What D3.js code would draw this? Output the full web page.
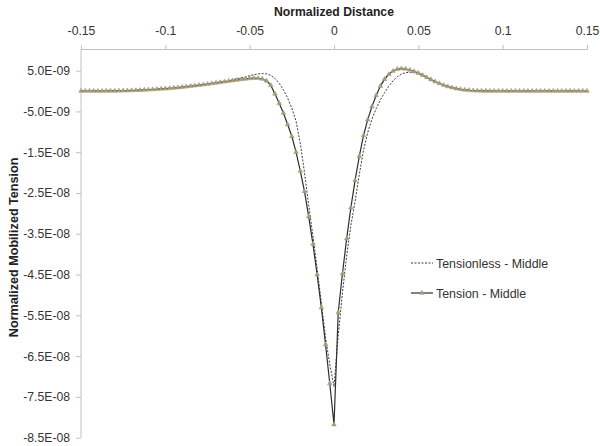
<!DOCTYPE html>
<html>
<head>
<meta charset="utf-8">
<script src="https://cdn.jsdelivr.net/npm/d3@7"></script>
<style>
  html, body { margin: 0; padding: 0; background: #fff; }
  svg { display: block; font-family: "Liberation Sans", Arial, sans-serif; }
</style>
</head>
<body>
<svg id="chart" width="600" height="446"></svg>
<script>
// Normalized distance (x)
const distance = [
  -0.15,-0.1475,-0.145,-0.1425,-0.14,-0.1375,-0.135,-0.1325,-0.13,-0.1275,
  -0.125,-0.1225,-0.12,-0.1175,-0.115,-0.1125,-0.11,-0.1075,-0.105,-0.1025,
  -0.1,-0.0975,-0.095,-0.0925,-0.09,-0.0875,-0.085,-0.0825,-0.08,-0.0775,
  -0.075,-0.0725,-0.07,-0.0675,-0.065,-0.0625,-0.06,-0.0575,-0.055,-0.0525,
  -0.05,-0.0475,-0.045,-0.0425,-0.04,-0.0375,-0.035,-0.0325,-0.03,-0.0275,
  -0.025,-0.0225,-0.02,-0.0175,-0.015,-0.0125,-0.01,-0.0075,-0.005,-0.0025,
  0,0.0025,0.005,0.0075,0.01,0.0125,0.015,0.0175,0.02,0.0225,
  0.025,0.0275,0.03,0.0325,0.035,0.0375,0.04,0.0425,0.045,0.0475,
  0.05,0.0525,0.055,0.0575,0.06,0.0625,0.065,0.0675,0.07,0.0725,
  0.075,0.0775,0.08,0.0825,0.085,0.0875,0.09,0.0925,0.095,0.0975,
  0.1,0.1025,0.105,0.1075,0.11,0.1125,0.115,0.1175,0.12,0.1225,
  0.125,0.1275,0.13,0.1325,0.135,0.1375,0.14,0.1425,0.145,0.1475,
  0.15
];

// Values in units of 1E-09
const tensionMiddle = [
  0,0,0,0,0,0,0.01,0.02,0.03,0.05,
  0.07,0.1,0.13,0.17,0.21,0.26,0.31,0.37,0.43,0.5,
  0.57,0.65,0.74,0.84,0.95,1.06,1.18,1.3,1.43,1.56,
  1.7,1.84,1.98,2.12,2.27,2.42,2.56,2.7,2.84,2.97,
  3.08,3.15,3.12,2.95,2.5,1.4,-0.7,-3.0,-5.4,-8.2,
  -11.1,-15,-19.6,-24.6,-30.8,-37.5,-45,-53.1,-62.2,-71.7,
  -81.8,-54.3,-44.8,-36.2,-28.6,-21.9,-16,-10.9,-7,-3.8,
  -1.1,1.2,2.9,4.1,4.9,5.35,5.5,5.4,5.15,4.8,
  4.4,3.9,3.35,2.8,2.3,1.85,1.45,1.1,0.82,0.6,
  0.42,0.28,0.18,0.11,0.06,0.03,0.01,0,0,0,
  0,0,0,0,0,0,0,0,0,0,
  0,0,0,0,0,0,0,0,0,0,
  0
];

const tensionlessMiddle = [
  0,0,0,0,0,0,0.01,0.02,0.03,0.05,
  0.07,0.1,0.13,0.17,0.21,0.26,0.31,0.37,0.43,0.5,
  0.57,0.65,0.74,0.84,0.95,1.06,1.18,1.3,1.43,1.57,
  1.72,1.88,2.04,2.21,2.39,2.58,2.78,3.0,3.23,3.48,
  3.74,4.0,4.2,4.3,4.2,3.85,3.1,1.9,0.3,-1.7,
  -4.2,-7.4,-12.8,-20,-28,-35.5,-43.5,-52,-60.5,-67,
  -72.5,-60,-49.5,-40.5,-33,-27,-20.5,-14.5,-10.2,-6.9,
  -4.3,-2.2,-0.4,1.2,2.5,3.5,4.15,4.5,4.6,4.5,
  4.25,3.85,3.35,2.8,2.3,1.85,1.45,1.1,0.82,0.6,
  0.42,0.28,0.18,0.11,0.06,0.03,0.01,0,0,0,
  0,0,0,0,0,0,0,0,0,0,
  0,0,0,0,0,0,0,0,0,0,
  0
];

const xTicks = [-0.15, -0.1, -0.05, 0, 0.05, 0.1, 0.15];
const xTickLabels = ["-0.15", "-0.1", "-0.05", "0", "0.05", "0.1", "0.15"];
const yTicks = [5, -5, -15, -25, -35, -45, -55, -65, -75, -85];
const yTickLabels = ["5.0E-09", "-5.0E-09", "-1.5E-08", "-2.5E-08", "-3.5E-08",
                     "-4.5E-08", "-5.5E-08", "-6.5E-08", "-7.5E-08", "-8.5E-08"];
const seriesNames = ["Tensionless - Middle", "Tension - Middle"];

const svg = d3.select("#chart");
const plotL = 81, plotR = 587, plotT = 49, plotB = 437.7;

const x = d3.scaleLinear().domain([-0.15, 0.15]).range([plotL, plotR]);
const y = d3.scaleLinear().domain([-85, 10.3]).range([plotB, plotT]);

const axisColor = "#c0c0c0";
const textColor = "#333";
const tickFont = 12.2;

// X axis (on top)
const xAxis = d3.axisTop(x).tickValues(xTicks)
  .tickFormat((d, i) => xTickLabels[i]).tickSizeInner(4).tickSizeOuter(4).tickPadding(10);
const gx = svg.append("g").attr("transform", `translate(0,${plotT})`).call(xAxis);
gx.select(".domain").attr("stroke", axisColor);
gx.selectAll(".tick line").attr("stroke", axisColor);
gx.selectAll(".tick text").attr("fill", textColor).attr("font-size", tickFont)
  .attr("font-family", "Liberation Sans, Arial, sans-serif");

// Y axis
const yAxis = d3.axisLeft(y).tickValues(yTicks)
  .tickFormat((d, i) => yTickLabels[i]).tickSizeInner(5).tickSizeOuter(0).tickPadding(6);
const gy = svg.append("g").attr("transform", `translate(${plotL},0)`).call(yAxis);
gy.select(".domain").attr("stroke", axisColor).attr("d", `M0,${plotT}V${plotB}`);
gy.selectAll(".tick line").attr("stroke", axisColor);
gy.selectAll(".tick text").attr("fill", textColor).attr("font-size", tickFont)
  .attr("font-family", "Liberation Sans, Arial, sans-serif");

// Titles
svg.append("text").attr("x", (plotL + plotR) / 2).attr("y", 15.5)
  .attr("text-anchor", "middle").attr("font-size", 12.2).attr("font-weight", "bold")
  .attr("fill", "#222").text("Normalized Distance");
svg.append("text").attr("transform", `translate(17.5,${(plotT + plotB) / 2 + 4}) rotate(-90)`)
  .attr("text-anchor", "middle").attr("font-size", 12.6).attr("font-weight", "bold")
  .attr("fill", "#222").text("Normalized Mobilized Tension");

// Lines
const line = d3.line().x((d, i) => x(distance[i])).y(d => y(d));

svg.append("path").datum(tensionlessMiddle).attr("d", line)
  .attr("fill", "none").attr("stroke", "#3a3a3a").attr("stroke-width", 1)
  .attr("stroke-dasharray", "2,1.5");

svg.append("path").datum(tensionMiddle).attr("d", line)
  .attr("fill", "none").attr("stroke", "#2e2e2e").attr("stroke-width", 1.2);

const tri = d3.symbol().type(d3.symbolTriangle).size(9);
const markerColor = "#a39d78";
svg.append("g").selectAll("path").data(tensionMiddle).join("path")
  .attr("d", tri)
  .attr("transform", (d, i) => `translate(${x(distance[i])},${y(d)})`)
  .attr("fill", markerColor).attr("stroke", markerColor).attr("stroke-width", 0.6);

// Legend
const lg = svg.append("g");
lg.append("line").attr("x1", 411).attr("x2", 433).attr("y1", 263).attr("y2", 263)
  .attr("stroke", "#3a3a3a").attr("stroke-width", 1).attr("stroke-dasharray", "2,1.5");
lg.append("text").attr("x", 436).attr("y", 267.5).attr("font-size", 12.4)
  .attr("fill", textColor).text(seriesNames[0]);
lg.append("line").attr("x1", 411).attr("x2", 433).attr("y1", 293).attr("y2", 293)
  .attr("stroke", "#2e2e2e").attr("stroke-width", 1.2);
lg.append("path").attr("d", tri).attr("transform", "translate(422,293)")
  .attr("fill", markerColor).attr("stroke", markerColor).attr("stroke-width", 0.6);
lg.append("text").attr("x", 436).attr("y", 297.5).attr("font-size", 12.4)
  .attr("fill", textColor).text(seriesNames[1]);
</script>
</body>
</html>
